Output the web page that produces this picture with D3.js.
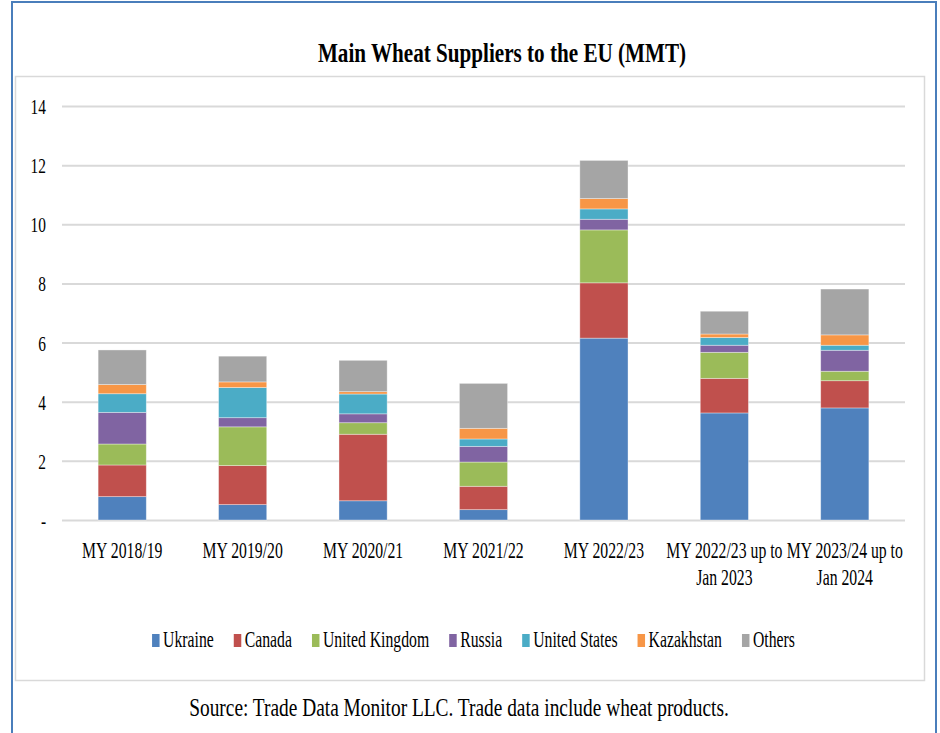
<!DOCTYPE html>
<html>
<head>
	<title>Main Wheat Suppliers to the EU</title>
	<script src="https://cdn.jsdelivr.net/npm/d3@7"></script>
</head>
<style type="text/css">
body
{
	margin: 0;
	background-color: #ffffff;
}
text
{
	font-family: "Liberation Serif", "Times New Roman", serif;
	fill: #000000;
}
</style>
<body>

</body>
</html>
<script type="text/javascript">
	// values, million metric tonnes
	var categories = ["MY 2018/19", "MY 2019/20", "MY 2020/21", "MY 2021/22", "MY 2022/23", "MY 2022/23 up to Jan 2023", "MY 2023/24 up to Jan 2024"];
	var seriesNames = ["Ukraine", "Canada", "United Kingdom", "Russia", "United States", "Kazakhstan", "Others"];
	var ukraine = [0.79, 0.52, 0.65, 0.35, 6.15, 3.62, 3.79];
	var canada = [1.07, 1.32, 2.25, 0.79, 1.87, 1.17, 0.92];
	var unitedKingdom = [0.71, 1.31, 0.39, 0.82, 1.79, 0.88, 0.32];
	var russia = [1.07, 0.31, 0.30, 0.53, 0.36, 0.24, 0.71];
	var unitedStates = [0.63, 1.02, 0.67, 0.25, 0.35, 0.26, 0.17];
	var kazakhstan = [0.31, 0.19, 0.08, 0.36, 0.35, 0.12, 0.35];
	var others = [1.17, 0.87, 1.06, 1.52, 1.29, 0.77, 1.55];
	var yTicks = [0, 2, 4, 6, 8, 10, 12, 14];
	var colors = ["#4f81bd", "#c0504d", "#9bbb59", "#8064a2", "#4bacc6", "#f79646", "#a5a5a5"];

	var seriesValues = [ukraine, canada, unitedKingdom, russia, unitedStates, kazakhstan, others];
	var table = categories.map(function(c, i){
		var row = {category: c};
		seriesNames.forEach(function(s, j){ row[s] = seriesValues[j][i]; });
		return row;
	});

	var w = 940;
	var h = 733;
	var margin = {left:62, right:35, top:106, bottom:213};
	var width = w - margin.left - margin.right;
	var height = h - margin.top - margin.bottom;
	var squeezeK = 0.7;

	// Excel picture was squashed sideways, so narrow every text the same way
	function squeeze(sel, k) {
		sel.each(function(){
			var t = d3.select(this);
			var x0 = +t.attr("x") || 0;
			t.attr("x", x0 / k).attr("transform", "scale(" + k + ",1)");
		});
	}

	var svg = d3.select("body").append("svg").attr("width", w).attr("height", h);

	// outer blue frame and grey chart box
	svg.append("rect").attr("x", 12).attr("y", 2).attr("width", 924).attr("height", 760)
		.attr("fill", "none").attr("stroke", "#4a7ebb").attr("stroke-width", 2);
	svg.append("rect").attr("x", 15.5).attr("y", 76.5).attr("width", 909).attr("height", 604)
		.attr("fill", "none").attr("stroke", "#d9d9d9").attr("stroke-width", 1.5);

	var title = svg.append("text").attr("x", 502).attr("y", 62).attr("text-anchor", "middle")
		.style("font-size", "28px").style("font-weight", "bold")
		.text("Main Wheat Suppliers to the EU (MMT)");
	squeeze(title, 0.755);

	var g = svg.append("g").attr("transform", "translate(" + margin.left + "," + margin.top + ")");

	var x = d3.scaleBand()
				.domain(categories)
				.range([0, width])
				.paddingInner(0.6)
				.paddingOuter(0.3);
	var y = d3.scaleLinear()
				.domain([0, 14])
				.range([height, 0]);
	var color = d3.scaleOrdinal()
				.domain(seriesNames)
				.range(colors);

	var yaxis = d3.axisLeft(y).tickValues(yTicks).tickSize(-width).tickPadding(16)
				.tickFormat(function(d){ return d === 0 ? "-" : d; });
	var yg = g.append("g").call(yaxis);
	yg.select(".domain").remove();
	yg.selectAll("line").attr("stroke", "#d9d9d9").attr("stroke-width", 2);
	yg.selectAll("text").style("font-size", "22px").attr("dy", "0.34em");
	squeeze(yg.selectAll("text"), squeezeK);

	var stack = d3.stack().keys(seriesNames);
	var layers = stack(table);

	g.selectAll(".layer").data(layers).enter().append("g")
		.attr("class", "layer")
		.attr("fill", function(d){ return color(d.key); })
		.selectAll("rect").data(function(d){ return d; }).enter().append("rect")
			.attr("x", function(d){ return x(d.data.category); })
			.attr("y", function(d){ return y(d[1]); })
			.attr("width", x.bandwidth())
			.attr("height", function(d){ return y(d[0]) - y(d[1]); })
			.attr("stroke", "#ffffff")
			.attr("stroke-opacity", 0.45)
			.attr("stroke-width", 0.8);

	var xaxis = d3.axisBottom(x).tickSize(0).tickPadding(22);
	var xg = g.append("g").attr("transform", "translate(0," + height + ")").call(xaxis);
	xg.select(".domain").remove();
	xg.selectAll("text").each(function(d){
		var t = d3.select(this);
		var cut = d.indexOf(" Jan");
		var lines = cut > 0 ? [d.slice(0, cut), d.slice(cut + 1)] : [d];
		t.text(null).attr("dy", null).style("font-size", "22.5px");
		lines.forEach(function(l, i){
			t.append("tspan").attr("x", 0).attr("dy", i === 0 ? "0.71em" : "27px").text(l);
		});
	});
	squeeze(xg.selectAll("text"), squeezeK);

	// legend, laid out from the squeezed label widths
	var legend = svg.append("g");
	var items = legend.selectAll("g").data(seriesNames).enter().append("g");
	items.append("rect").attr("width", 7.5).attr("height", 13).attr("y", -13)
		.attr("fill", function(d){ return color(d); });
	items.append("text").attr("x", 11).style("font-size", "22.5px").text(function(d){ return d; });
	squeeze(items.selectAll("text"), squeezeK);
	var pos = 0;
	items.each(function(){
		var tw = d3.select(this).select("text").node().getComputedTextLength() * squeezeK;
		d3.select(this).attr("transform", "translate(" + pos + ",0)");
		pos += 11 + tw + 20;
	});
	pos -= 20;
	legend.attr("transform", "translate(" + (473.5 - pos / 2) + ",647)");

	var source = svg.append("text").attr("x", 459).attr("y", 716).attr("text-anchor", "middle")
		.style("font-size", "25px")
		.text("Source: Trade Data Monitor LLC. Trade data include wheat products.");
	squeeze(source, 0.775);
</script>
